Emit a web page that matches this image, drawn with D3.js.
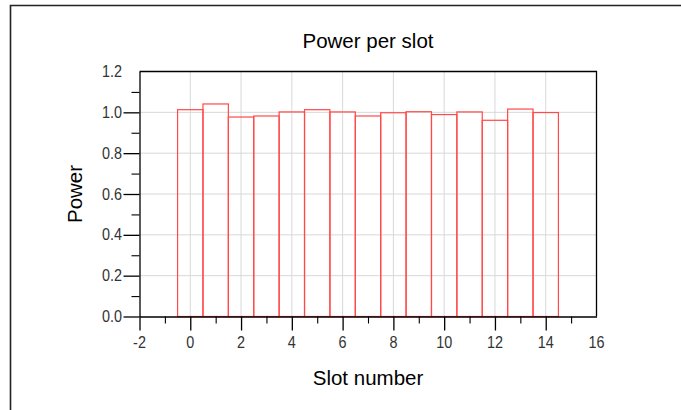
<!DOCTYPE html>
<html>
<head>
<meta charset="utf-8">
<script src="https://cdn.jsdelivr.net/npm/d3@7"></script>
<style>
  html, body { margin: 0; padding: 0; background: #fff; }
  svg { display: block; }
</style>
</head>
<body>
<svg id="chart" width="681" height="410"></svg>
<script>
const title = "Power per slot";
const xLabel = "Slot number";
const yLabel = "Power";
const slots = [0, 1, 2, 3, 4, 5, 6, 7, 8, 9, 10, 11, 12, 13, 14];
const power = [1.013, 1.041, 0.977, 0.982, 1.002, 1.013, 1.002, 0.982, 0.998, 1.003, 0.989, 1.002, 0.961, 1.016, 0.999];
const xMajorTicks = [-2, 0, 2, 4, 6, 8, 10, 12, 14, 16];
const xMinorTicks = [-1, 1, 3, 5, 7, 9, 11, 13, 15];
const yMajorTicks = [0.0, 0.2, 0.4, 0.6, 0.8, 1.0, 1.2];
const yMinorTicks = [0.1, 0.3, 0.5, 0.7, 0.9, 1.1];

const svg = d3.select("#chart");
const L = 139.5, R = 596.5, T = 71.5, B = 316.5;
const FONT = "Liberation Sans, Arial, sans-serif";

const x = d3.scaleLinear().domain([-2, 16]).range([L, R]);
const y = d3.scaleLinear().domain([0, 1.2]).range([B, T]);

// outer frame
svg.append("path")
  .attr("d", `M10.5,412 L10.5,5.5 L683,5.5`)
  .attr("fill", "none").attr("stroke", "#222").attr("stroke-width", 1.6);

// grid
const grid = svg.append("g");
grid.selectAll("line.vx").data(xMajorTicks.filter(d => d > -2 && d < 16)).join("line")
  .attr("x1", d => x(d)).attr("x2", d => x(d)).attr("y1", T).attr("y2", B)
  .attr("stroke", "#d8d8d8").attr("stroke-width", 1);
grid.selectAll("line.hy").data(yMajorTicks.filter(d => d > 0 && d < 1.2)).join("line")
  .attr("x1", L).attr("x2", R).attr("y1", d => y(d)).attr("y2", d => y(d))
  .attr("stroke", "#d8d8d8").attr("stroke-width", 1);

// bars
svg.append("g").selectAll("rect").data(slots).join("rect")
  .attr("x", (d) => x(d - 0.5))
  .attr("width", (d) => x(d + 0.5) - x(d - 0.5))
  .attr("y", (d, i) => y(power[i]))
  .attr("height", (d, i) => y(0) - y(power[i]))
  .attr("fill", "none")
  .attr("stroke", "#ff4a4a")
  .attr("stroke-width", 1.2);

// plot frame (top & right)
svg.append("path")
  .attr("d", `M${L},${T} L${R},${T} L${R},${B}`)
  .attr("fill", "none").attr("stroke", "#000").attr("stroke-width", 1.3);

// x axis
const xAxisMajor = d3.axisBottom(x).tickValues(xMajorTicks.filter(d => d < 16))
  .tickSize(14).tickSizeOuter(0).tickFormat("");
const gx = svg.append("g").attr("transform", `translate(0,${B})`).call(xAxisMajor);
gx.select(".domain").attr("stroke", "#000").attr("stroke-width", 1.3);
gx.selectAll(".tick line").attr("stroke", "#000").attr("stroke-width", 1.3);
const gxm = svg.append("g").attr("transform", `translate(0,${B})`)
  .call(d3.axisBottom(x).tickValues(xMinorTicks).tickSize(7).tickSizeOuter(0).tickFormat(""));
gxm.select(".domain").remove();
gxm.selectAll(".tick line").attr("stroke", "#000").attr("stroke-width", 1.1);
svg.append("g").selectAll("text").data(xMajorTicks).join("text")
  .attr("transform", d => `translate(${x(d)},348) scale(0.9,1)`)
  .attr("text-anchor", "middle")
  .attr("font-family", FONT)
  .attr("font-size", 16).attr("fill", "#333")
  .text(d => String(d));

// y axis
const yAxisMajor = d3.axisLeft(y).tickValues(yMajorTicks.filter(d => d < 1.2))
  .tickSize(16).tickSizeOuter(0).tickFormat("");
const gy = svg.append("g").attr("transform", `translate(${L},0)`).call(yAxisMajor);
gy.select(".domain").attr("stroke", "#000").attr("stroke-width", 1.3);
gy.selectAll(".tick line").attr("stroke", "#000").attr("stroke-width", 1.3);
const gym = svg.append("g").attr("transform", `translate(${L},0)`)
  .call(d3.axisLeft(y).tickValues(yMinorTicks).tickSize(8).tickSizeOuter(0).tickFormat(""));
gym.select(".domain").remove();
gym.selectAll(".tick line").attr("stroke", "#000").attr("stroke-width", 1.1);
svg.append("g").selectAll("text").data(yMajorTicks).join("text")
  .attr("transform", d => `translate(122,${y(d) + 5.5}) scale(0.9,1)`)
  .attr("text-anchor", "end")
  .attr("font-family", FONT)
  .attr("font-size", 16).attr("fill", "#333")
  .text(d => d3.format(".1f")(d));

// titles
svg.append("text")
  .attr("x", (L + R) / 2).attr("y", 48)
  .attr("text-anchor", "middle")
  .attr("font-family", FONT)
  .attr("font-size", 20.5).attr("fill", "#000")
  .text(title);
svg.append("text")
  .attr("x", (L + R) / 2).attr("y", 385)
  .attr("text-anchor", "middle")
  .attr("font-family", FONT)
  .attr("font-size", 20.5).attr("fill", "#000")
  .text(xLabel);
svg.append("text")
  .attr("transform", `translate(82,${(T + B) / 2}) rotate(-90)`)
  .attr("text-anchor", "middle")
  .attr("font-family", FONT)
  .attr("font-size", 20.5).attr("fill", "#000")
  .text(yLabel);
</script>
</body>
</html>
